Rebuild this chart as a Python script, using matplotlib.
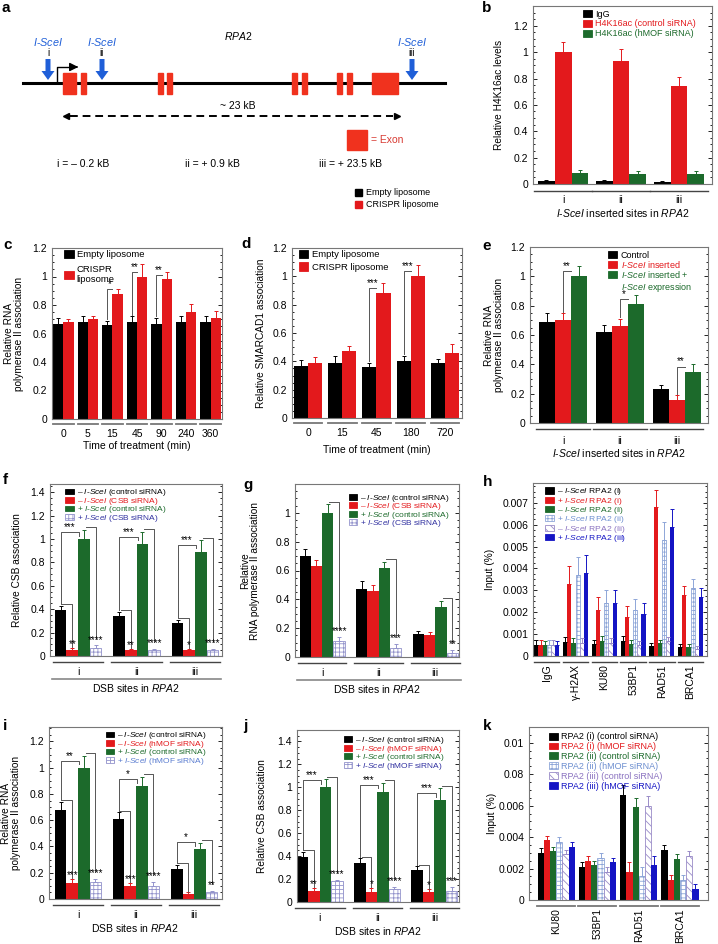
import numpy as np
import matplotlib
matplotlib.use('Agg')
import matplotlib.pyplot as plt
from matplotlib.patches import Patch, Rectangle
from matplotlib.ticker import AutoMinorLocator

plt.rcParams['font.family'] = ['Liberation Sans', 'DejaVu Sans']
plt.rcParams['mathtext.fontset'] = 'custom'
plt.rcParams['mathtext.rm'] = 'Liberation Sans'
plt.rcParams['mathtext.it'] = 'Liberation Sans:italic'
plt.rcParams['hatch.linewidth'] = 0.6

SCE = r'$\mathit{I}$-$\mathit{SceI}$'
RPA = r'$\mathit{RPA2}$'

# ---- data ----
sites = ['i', 'ii', 'iii']

# b
b_igg = [0.02, 0.02, 0.015]
b_igg_err = [0.012, 0.01, 0.01]
b_ctrl = [1.0, 0.93, 0.74]
b_ctrl_err = [0.08, 0.095, 0.075]
b_hmof = [0.085, 0.075, 0.075]
b_hmof_err = [0.02, 0.025, 0.025]

# c
c_times = ['0', '5', '15', '45', '90', '240', '360']
c_empty = [0.67, 0.68, 0.66, 0.68, 0.67, 0.68, 0.68]
c_empty_err = [0.04, 0.04, 0.03, 0.04, 0.04, 0.04, 0.04]
c_crispr = [0.68, 0.70, 0.88, 1.00, 0.98, 0.75, 0.71]
c_crispr_err = [0.02, 0.02, 0.03, 0.09, 0.05, 0.06, 0.05]
c_stars = {2: '*', 3: '**', 4: '**'}

# d
d_times = ['0', '15', '45', '180', '720']
d_empty = [0.37, 0.39, 0.36, 0.40, 0.39]
d_empty_err = [0.04, 0.05, 0.03, 0.04, 0.03]
d_crispr = [0.39, 0.47, 0.88, 1.00, 0.46]
d_crispr_err = [0.04, 0.04, 0.07, 0.08, 0.06]
d_stars = {2: '***', 3: '***'}

# e
e_control = [0.69, 0.62, 0.23]
e_control_err = [0.06, 0.05, 0.03]
e_inserted = [0.70, 0.66, 0.16]
e_inserted_err = [0.05, 0.05, 0.03]
e_expr = [1.00, 0.81, 0.35]
e_expr_err = [0.07, 0.06, 0.05]
e_stars = ['**', '*', '**']

# f
f_neg_ctrl = [0.39, 0.34, 0.28]
f_neg_ctrl_err = [0.04, 0.04, 0.03]
f_neg_csb = [0.05, 0.05, 0.05]
f_neg_csb_err = [0.02, 0.01, 0.01]
f_pos_ctrl = [1.00, 0.96, 0.89]
f_pos_ctrl_err = [0.08, 0.10, 0.10]
f_pos_csb = [0.07, 0.05, 0.05]
f_pos_csb_err = [0.02, 0.01, 0.01]
f_stars_top = ['***', '***', '***']
f_stars_red = ['**', '**', '*']
f_stars_hatch = ['****', '****', '****']

# g
g_neg_ctrl = [0.70, 0.47, 0.16]
g_neg_ctrl_err = [0.05, 0.06, 0.02]
g_neg_csb = [0.63, 0.46, 0.15]
g_neg_csb_err = [0.04, 0.04, 0.02]
g_pos_ctrl = [1.00, 0.62, 0.35]
g_pos_ctrl_err = [0.06, 0.04, 0.04]
g_pos_csb = [0.11, 0.06, 0.03]
g_pos_csb_err = [0.03, 0.03, 0.02]
g_stars_hatch = ['****', '***', '**']

# h
h_targets = ['IgG', 'γ-H2AX', 'KU80', '53BP1', 'RAD51', 'BRCA1']
h_neg_i = [0.0005, 0.00065, 0.00055, 0.0007, 0.00045, 0.0004]
h_pos_i = [0.00052, 0.0033, 0.0021, 0.0018, 0.0068, 0.0028]
h_neg_ii = [0.00048, 0.0006, 0.0007, 0.00055, 0.0006, 0.00042]
h_pos_ii = [0.0005, 0.0037, 0.0024, 0.0021, 0.0053, 0.0031]
h_neg_iii = [0.0005, 0.0006, 0.0006, 0.0005, 0.0007, 0.0003]
h_pos_iii = [0.00048, 0.0038, 0.0024, 0.0019, 0.0059, 0.0027]
h_neg_err = [0.00022, 0.0002, 0.0002, 0.0002, 0.00015, 0.00015]
h_pos_err = [0.00022, 0.0008, 0.0006, 0.0005, 0.0008, 0.0004]

# i
i_neg_ctrl = [0.68, 0.61, 0.23]
i_neg_ctrl_err = [0.06, 0.05, 0.03]
i_neg_hmof = [0.12, 0.10, 0.04]
i_neg_hmof_err = [0.03, 0.02, 0.01]
i_pos_ctrl = [1.00, 0.86, 0.38]
i_pos_ctrl_err = [0.09, 0.07, 0.05]
i_pos_hmof = [0.13, 0.10, 0.05]
i_pos_hmof_err = [0.02, 0.03, 0.01]
i_stars_top = ['**', '*', '*']
i_stars_red = ['***', '***', '']
i_stars_hatch = ['****', '****', '**']

# j
j_neg_ctrl = [0.39, 0.34, 0.28]
j_neg_ctrl_err = [0.05, 0.04, 0.03]
j_neg_hmof = [0.10, 0.09, 0.09]
j_neg_hmof_err = [0.02, 0.03, 0.02]
j_pos_ctrl = [1.00, 0.96, 0.89]
j_pos_ctrl_err = [0.07, 0.08, 0.10]
j_pos_hmof = [0.18, 0.11, 0.10]
j_pos_hmof_err = [0.01, 0.02, 0.03]
j_stars_top = ['***', '***', '***']
j_stars_red = ['**', '*', '*']
j_stars_hatch = ['****', '****', '***']

# k
k_targets = ['KU80', '53BP1', 'RAD51', 'BRCA1']
k_i_ctrl = [0.0030, 0.0021, 0.0067, 0.0032]
k_i_hmof = [0.0038, 0.0025, 0.0018, 0.0013]
k_ii_ctrl = [0.0031, 0.0022, 0.0059, 0.0026]
k_ii_hmof = [0.0037, 0.0027, 0.0015, 0.0013]
k_iii_ctrl = [0.0029, 0.0018, 0.0060, 0.0028]
k_iii_hmof = [0.0034, 0.0024, 0.0022, 0.0007]
k_err = [0.0003, 0.0003, 0.0006, 0.0003]
k_ticks = [0, 0.002, 0.004, 0.006, 0.008, 0.01]
k_ticklabels = ['0', '0.002', '0.004', '0.006', '0.08', '0.01']

# gene schematic (a), pixel layout
exons = [(63, 13), (81, 5), (158, 5), (167, 5), (292, 5), (302, 5), (337, 5), (347, 5), (372, 26)]
cut_sites = [(48, 'i'), (102, 'ii'), (412, 'iii')]
site_text = [(57, 'i = – 0.2 kB'), (185, 'ii = + 0.9 kB'), (319, 'iii = + 23.5 kB')]

BLACK = '#000000'
RED = '#e3191c'
GREEN = '#1c6a2b'
BLUE = '#1414c4'
LBLUE = '#8ea6d8'
PURPLE = '#9a8cc8'
GRIDC = '#9494cc'
EXON = '#f0321e'
ARROW = '#1f5fd8'

W, H = 718, 944
fig = plt.figure(figsize=(W / 100, H / 100), dpi=100)


def rect(x0, x1, y0, y1):
    return [x0 / W, 1 - y1 / H, (x1 - x0) / W, (y1 - y0) / H]


def style(ax, ylim, ticks, labels=None, xlim=None, pad=8):
    ax.set_ylim(*ylim)
    ax.set_yticks(ticks)
    if labels is not None:
        ax.set_yticklabels(labels)
    if xlim is not None:
        ax.set_xlim(*xlim)
    ax.yaxis.set_minor_locator(AutoMinorLocator(4))
    ax.tick_params(axis='y', which='both', direction='in', right=True, labelsize=7.5, width=0.6)
    ax.tick_params(axis='y', which='major', length=3)
    ax.tick_params(axis='y', which='minor', length=1.5)
    ax.tick_params(axis='x', length=0, labelsize=7.5, pad=pad)
    for s in ax.spines.values():
        s.set_color('#777777')
        s.set_linewidth(0.8)


def draw_bars(ax, series, width):
    n = len(series)
    xs = []
    for k, (vals, errs, face, edge, hatch) in enumerate(series):
        x = np.arange(len(vals)) + (k - (n - 1) / 2) * width
        ax.bar(x, vals, width, color=face, edgecolor=edge, hatch=hatch,
               linewidth=0.6 if hatch else 0, zorder=2)
        ax.errorbar(x, vals, yerr=[np.zeros(len(vals)), errs], fmt='none',
                    ecolor=edge if hatch else face, elinewidth=0.7, capsize=1.5,
                    capthick=0.7, zorder=3)
        xs.append(x)
    return xs


def underline(ax, ngroups, half, ypx, color='#444444', lw=1.0, full=False):
    tr = ax.get_xaxis_transform()
    h = ax.get_position().height * H
    if full:
        ax.plot([-half, ngroups - 1 + half], [-ypx / h] * 2, transform=tr,
                clip_on=False, color='#888888', lw=1.2)
        return
    for g in range(ngroups):
        ax.plot([g - half, g + half], [-ypx / h] * 2, transform=tr,
                clip_on=False, color=color, lw=lw)


def xlab(ax, text, dy):
    h = ax.get_position().height * H
    ax.text(0.5, -dy / h, text, transform=ax.transAxes, ha='center', va='center', fontsize=7.5)


def ylab(ax, text, xpx):
    pos = ax.get_position()
    fig.text(xpx / W, pos.y0 + pos.height / 2, text, rotation=90, ha='center',
             va='center', fontsize=7.3, linespacing=1.0)


def bracket(ax, x1, x2, y1, top, y2=None, label='', lx=None, ly=None):
    xs = [x1, x1, x2]
    ys = [y1, top, top]
    if y2 is not None:
        xs.append(x2)
        ys.append(y2)
    ax.plot(xs, ys, color='#555555', lw=0.7, zorder=4)
    if lx is None:
        lx, ly = (x1 + x2) / 2, top
    ax.text(lx, ly, label, ha='center', va='bottom', fontsize=7, zorder=5)


def legend(ax, handles, labels, colors, anchor, fs=6.3, spacing=0.0, hh=0.8):
    leg = ax.legend(handles, labels, loc='upper left', bbox_to_anchor=anchor,
                    frameon=False, fontsize=fs, handlelength=1.0, handleheight=hh,
                    handletextpad=0.35, labelspacing=spacing, borderaxespad=0,
                    borderpad=0.2)
    for t, c in zip(leg.get_texts(), colors):
        t.set_color(c)
    return leg


def patch(face, edge=None, hatch=None):
    return Patch(facecolor=face, edgecolor=edge if edge else face, hatch=hatch, linewidth=0.6)


# ---- panel a ----
ax = fig.add_axes([0, 1 - 225 / H, 470 / W, 225 / H])
ax.set_xlim(0, 470)
ax.set_ylim(225, 0)
ax.axis('off')
ax.plot([23, 445], [83, 83], color='k', lw=2.2, zorder=1)
for x0, w in exons:
    ax.add_patch(Rectangle((x0, 73), w, 21, color=EXON, zorder=2))
for x, lab in cut_sites:
    ax.arrow(x, 59, 0, 21, width=5, head_width=13, head_length=9,
             length_includes_head=True, color=ARROW, lw=0, zorder=3)
    ax.text(x, 42, SCE, color=ARROW, ha='center', va='center', fontsize=7.8)
    ax.text(x, 53, lab, color='k', ha='center', va='center', fontsize=7)
ax.plot([57, 57, 74], [82, 67, 67], color='k', lw=1.0)
ax.annotate('', xy=(81, 67), xytext=(73, 67),
            arrowprops=dict(arrowstyle='-|>,head_width=0.25,head_length=0.5', color='k', lw=1.0))
ax.text(238, 36, RPA, ha='center', va='center', fontsize=7.5)
ax.plot([70, 393], [116, 116], color='k', lw=1.4, dashes=(4, 2.5))
ax.plot([66], [116], marker='<', color='k', ms=5)
ax.plot([397], [116], marker='>', color='k', ms=5)
ax.text(238, 106, '~ 23 kB', ha='center', va='center', fontsize=7.5)
ax.add_patch(Rectangle((347, 130), 20, 20, color=EXON))
ax.text(371, 140, '= Exon', ha='left', va='center', fontsize=7.5, color='#d83a32')
for x, t in site_text:
    ax.text(x, 164, t, ha='left', va='center', fontsize=7.5)
ax.add_patch(Rectangle((355, 189), 7, 7, color='k'))
ax.text(366, 192.5, 'Empty liposome', ha='left', va='center', fontsize=6.5)
ax.add_patch(Rectangle((355, 201), 7, 7, color=RED))
ax.text(366, 204.5, 'CRISPR liposome', ha='left', va='center', fontsize=6.5)

# ---- panel b ----
ax = fig.add_axes(rect(533, 712, 6, 184))
draw_bars(ax, [(b_igg, b_igg_err, BLACK, BLACK, None),
               (b_ctrl, b_ctrl_err, RED, RED, None),
               (b_hmof, b_hmof_err, GREEN, GREEN, None)], 0.29)
style(ax, (0, 1.35), np.arange(0, 1.21, 0.2), ['0', '0.2', '0.4', '0.6', '0.8', '1', '1.2'],
      xlim=(-0.52, 2.57), pad=8)
ax.set_xticks(range(3))
ax.set_xticklabels(sites)
underline(ax, 3, 0.5, 7)
xlab(ax, SCE + ' inserted sites in ' + RPA, 29)
ylab(ax, 'Relative H4K16ac levels', 499)
legend(ax, [patch(BLACK), patch(RED), patch(GREEN)],
       ['IgG', 'H4K16ac (control siRNA)', 'H4K16ac (hMOF siRNA)'],
       [BLACK, RED, GREEN], (0.27, 0.99), fs=6.5, spacing=0.1)

# ---- panel c ----
ax = fig.add_axes(rect(52, 222, 248, 419))
xs = draw_bars(ax, [(c_empty, c_empty_err, BLACK, BLACK, None),
                    (c_crispr, c_crispr_err, RED, RED, None)], 0.42)
style(ax, (0, 1.2), np.arange(0, 1.21, 0.2), ['0', '0.2', '0.4', '0.6', '0.8', '1', '1.2'],
      xlim=(-0.46, 6.46), pad=7)
ax.set_xticks(range(len(c_times)))
ax.set_xticklabels(c_times)
underline(ax, len(c_times), 0.42, 5, color='#777777', lw=1.3)
xlab(ax, 'Time of treatment (min)', 27)
ylab(ax, 'Relative RNA\npolymerase II association', 14)
for g, s in c_stars.items():
    bracket(ax, xs[0][g], g, c_empty[g] + c_empty_err[g] + 0.01, c_crispr[g] + 0.03, label=s)
legend(ax, [patch(BLACK), patch(RED)], ['Empty liposome', 'CRISPR\nliposome'],
       [BLACK, BLACK], (0.06, 1.0), fs=6.8, spacing=0.6, hh=1.0)

# ---- panel d ----
ax = fig.add_axes(rect(292, 462, 248, 418))
xs = draw_bars(ax, [(d_empty, d_empty_err, BLACK, BLACK, None),
                    (d_crispr, d_crispr_err, RED, RED, None)], 0.41)
style(ax, (0, 1.2), np.arange(0, 1.21, 0.2), ['0', '0.2', '0.4', '0.6', '0.8', '1', '1.2'],
      xlim=(-0.47, 4.5), pad=7)
ax.set_xticks(range(len(d_times)))
ax.set_xticklabels(d_times)
underline(ax, len(d_times), 0.42, 5, color='#777777', lw=1.3)
xlab(ax, 'Time of treatment (min)', 32)
ylab(ax, 'Relative SMARCAD1 association', 261)
for g, s in d_stars.items():
    bracket(ax, xs[0][g], g, d_empty[g] + d_empty_err[g] + 0.01, d_crispr[g] + 0.04, label=s)
legend(ax, [patch(BLACK), patch(RED)], ['Empty liposome', 'CRISPR liposome'],
       [BLACK, BLACK], (0.03, 1.0), fs=6.8, spacing=0.3, hh=1.0)

# ---- panel e ----
ax = fig.add_axes(rect(530, 708, 247, 423))
xs = draw_bars(ax, [(e_control, e_control_err, BLACK, BLACK, None),
                    (e_inserted, e_inserted_err, RED, RED, None),
                    (e_expr, e_expr_err, GREEN, GREEN, None)], 0.28)
style(ax, (0, 1.2), np.arange(0, 1.21, 0.2), ['0', '0.2', '0.4', '0.6', '0.8', '1', '1.2'],
      xlim=(-0.58, 2.55), pad=9)
ax.set_xticks(range(3))
ax.set_xticklabels(sites)
underline(ax, 3, 0.47, 6)
xlab(ax, SCE + ' inserted sites in ' + RPA, 30)
ylab(ax, 'Relative RNA\npolymerase II association', 494)
for g in range(3):
    bracket(ax, xs[1][g], xs[2][g] - 0.14, e_inserted[g] + e_inserted_err[g] + 0.01,
            e_expr[g] + 0.035, label=e_stars[g])
leg = legend(ax, [patch(BLACK), patch(RED), patch(GREEN)],
             ['Control', SCE + ' inserted', SCE + ' inserted +'],
             [BLACK, RED, GREEN], (0.43, 0.99), fs=6.5, spacing=-0.1)
ax.text(0.51, 0.77, SCE + ' expression', transform=ax.transAxes, color=GREEN,
        fontsize=6.5, ha='left', va='center')


# ---- four-series panels f, g, i, j ----
def four_panel(r, data, ylim, ticks, ticklabels, xlim, labels, lcolors, ylabel, ylx,
               stars_top=None, stars_red=None, stars_hatch=None, full=False, anchor=(0.08, 0.99)):
    ax = fig.add_axes(rect(*r))
    (nc, nce), (nh, nhe), (pc, pce), (ph, phe) = data
    xs = draw_bars(ax, [(nc, nce, BLACK, BLACK, None),
                        (nh, nhe, RED, RED, None),
                        (pc, pce, GREEN, GREEN, None),
                        (ph, phe, 'white', GRIDC, '++++')], 0.2)
    style(ax, ylim, ticks, ticklabels, xlim=xlim, pad=8)
    ax.set_xticks(range(3))
    ax.set_xticklabels(sites)
    underline(ax, 3, 0.43, 6)
    if full:
        underline(ax, 3, 0.45, 23, full=True)
        xlab(ax, 'DSB sites in ' + RPA, 32)
    else:
        xlab(ax, 'DSB sites in ' + RPA, 29)
    ylab(ax, ylabel, ylx)
    span = ylim[1]
    for g in range(3):
        if stars_top:
            bracket(ax, xs[0][g], xs[2][g] - 0.08, nc[g] + nce[g] + 0.01 * span,
                    pc[g] + 0.04 * span, y2=pc[g] + 0.02 * span, label=stars_top[g])
        if stars_red:
            y = nc[g] + nce[g] + 0.01 * span
            bracket(ax, xs[0][g] + 0.03, xs[1][g], y, y, y2=nh[g] + nhe[g] + 0.005 * span)
            ax.text(xs[1][g], nh[g] + nhe[g] - 0.005 * span, stars_red[g], ha='center',
                    va='bottom', fontsize=7, zorder=5)
        if stars_hatch:
            top = pc[g] + pce[g] + 0.015 * span
            bracket(ax, xs[2][g] + 0.03, xs[3][g], top, top, y2=ph[g] + phe[g] + 0.04 * span)
            ax.text(xs[3][g], ph[g] + phe[g] + 0.005 * span, stars_hatch[g], ha='center',
                    va='bottom', fontsize=7, zorder=5)
    legend(ax, [patch(BLACK), patch(RED), patch(GREEN), patch('white', GRIDC, '++++')],
           labels, lcolors, anchor, fs=6.0, spacing=-0.3, hh=0.7)
    return ax


rel_labels = ['0', '0.2', '0.4', '0.6', '0.8', '1', '1.2', '1.4']

csb_labels = ['– ' + SCE + ' (control siRNA)', '– ' + SCE + ' (CSB siRNA)',
              '+ ' + SCE + ' (control siRNA)', '+ ' + SCE + ' (CSB siRNA)']
hmof_labels = ['– ' + SCE + ' (control siRNA)', '– ' + SCE + ' (hMOF siRNA)',
               '+ ' + SCE + ' (control siRNA)', '+ ' + SCE + ' (hMOF siRNA)']

four_panel((50, 222, 484, 656),
           [(f_neg_ctrl, f_neg_ctrl_err), (f_neg_csb, f_neg_csb_err),
            (f_pos_ctrl, f_pos_ctrl_err), (f_pos_csb, f_pos_csb_err)],
           (0, 1.47), np.arange(0, 1.41, 0.2), rel_labels, (-0.48, 2.46), csb_labels,
           [BLACK, RED, GREEN, '#3030a0'],
           'Relative CSB association', 17,
           stars_top=f_stars_top, stars_red=f_stars_red, stars_hatch=f_stars_hatch,
           full=True, anchor=(0.08, 0.99))

four_panel((295, 459, 484, 657),
           [(g_neg_ctrl, g_neg_ctrl_err), (g_neg_csb, g_neg_csb_err),
            (g_pos_ctrl, g_pos_ctrl_err), (g_pos_csb, g_pos_csb_err)],
           (0, 1.2), np.arange(0, 1.01, 0.2), rel_labels[:6], (-0.48, 2.42), csb_labels,
           [BLACK, RED, GREEN, '#3030a0'],
           'Relative\nRNA polymerase II association', 250,
           stars_hatch=g_stars_hatch, full=True, anchor=(0.32, 0.96))

four_panel((49, 222, 727, 899),
           [(i_neg_ctrl, i_neg_ctrl_err), (i_neg_hmof, i_neg_hmof_err),
            (i_pos_ctrl, i_pos_ctrl_err), (i_pos_hmof, i_pos_hmof_err)],
           (0, 1.31), np.arange(0, 1.21, 0.2), rel_labels[:7], (-0.5, 2.48), hmof_labels,
           [BLACK, RED, GREEN, '#5a7cd0'],
           'Relative RNA\npolymerase II association', 11,
           stars_top=i_stars_top, stars_red=i_stars_red, stars_hatch=i_stars_hatch,
           anchor=(0.32, 0.99))

four_panel((297, 459, 730, 902),
           [(j_neg_ctrl, j_neg_ctrl_err), (j_neg_hmof, j_neg_hmof_err),
            (j_pos_ctrl, j_pos_ctrl_err), (j_pos_hmof, j_pos_hmof_err)],
           (0, 1.5), np.arange(0, 1.41, 0.2), rel_labels, (-0.4, 2.43), hmof_labels,
           [BLACK, RED, GREEN, '#3030a0'],
           'Relative CSB association', 262,
           stars_top=j_stars_top, stars_red=j_stars_red, stars_hatch=j_stars_hatch,
           anchor=(0.28, 0.98))

# ---- panel h ----
ax = fig.add_axes(rect(533, 707, 483, 656))
draw_bars(ax, [(h_neg_i, h_neg_err, BLACK, BLACK, None),
               (h_pos_i, h_pos_err, RED, RED, None),
               (h_neg_ii, h_neg_err, GREEN, GREEN, None),
               (h_pos_ii, h_pos_err, 'white', LBLUE, '++++'),
               (h_neg_iii, h_neg_err, 'white', PURPLE, '\\\\\\\\'),
               (h_pos_iii, h_pos_err, BLUE, BLUE, None)], 0.145)
style(ax, (0, 0.0079), np.arange(0, 0.00701, 0.001),
      ['0', '0.001', '0.002', '0.003', '0.004', '0.005', '0.006', '0.007'],
      xlim=(-0.48, 5.57), pad=6)
ax.set_xticks(range(len(h_targets)))
ax.set_xticklabels(h_targets, rotation=90, va='top')
underline(ax, len(h_targets), 0.44, 6)
ylab(ax, 'Input (%)', 490)
legend(ax, [patch(BLACK), patch(RED), patch(GREEN), patch('white', LBLUE, '++++'),
            patch('white', PURPLE, '\\\\\\\\'), patch(BLUE)],
       ['– ' + SCE + ' RPA2 (i)', '+ ' + SCE + ' RPA2 (i)', '– ' + SCE + ' RPA2 (ii)',
        '+ ' + SCE + ' RPA2 (ii)', '– ' + SCE + ' RPA2 (iii)', '+ ' + SCE + ' RPA2 (iii)'],
       [BLACK, RED, GREEN, '#6d8fd0', '#8a72c0', BLUE], (0.06, 0.99), fs=6.1,
       spacing=-0.2, hh=0.75)

# ---- panel k ----
ax = fig.add_axes(rect(529, 708, 727, 900))
draw_bars(ax, [(k_i_ctrl, k_err, BLACK, BLACK, None),
               (k_i_hmof, k_err, RED, RED, None),
               (k_ii_ctrl, k_err, GREEN, GREEN, None),
               (k_ii_hmof, k_err, 'white', LBLUE, '++++'),
               (k_iii_ctrl, k_err, 'white', PURPLE, '\\\\\\\\'),
               (k_iii_hmof, k_err, BLUE, BLUE, None)], 0.15)
style(ax, (0, 0.011), k_ticks, k_ticklabels, xlim=(-0.66, 3.68), pad=6)
ax.set_xticks(range(len(k_targets)))
ax.set_xticklabels(k_targets, rotation=90, va='top')
underline(ax, len(k_targets), 0.46, 6, color='#777777', lw=1.3)
ylab(ax, 'Input (%)', 492)
legend(ax, [patch(BLACK), patch(RED), patch(GREEN), patch('white', LBLUE, '++++'),
            patch('white', PURPLE, '\\\\\\\\'), patch(BLUE)],
       ['RPA2 (i) (control siRNA)', 'RPA2 (i) (hMOF siRNA)', 'RPA2 (ii) (control siRNA)',
        'RPA2 (ii) (hMOF siRNA)', 'RPA2 (iii) (control siRNA)', 'RPA2 (iii) (hMOF siRNA)'],
       [BLACK, RED, GREEN, '#6d8fd0', '#8a72c0', BLUE], (0.1, 0.98), fs=6.5, spacing=0.1)

# ---- panel letters ----
for letter, x, y in [('a', 2, 1), ('b', 482, 1), ('c', 3, 238), ('d', 241, 237),
                     ('e', 482, 239), ('f', 3, 473), ('g', 243, 478), ('h', 483, 475),
                     ('i', 3, 719), ('j', 243, 719), ('k', 483, 719)]:
    fig.text(x / W, 1 - y / H, letter, fontsize=11, fontweight='bold', va='top', ha='left')

fig.savefig('out.png', dpi=100)
